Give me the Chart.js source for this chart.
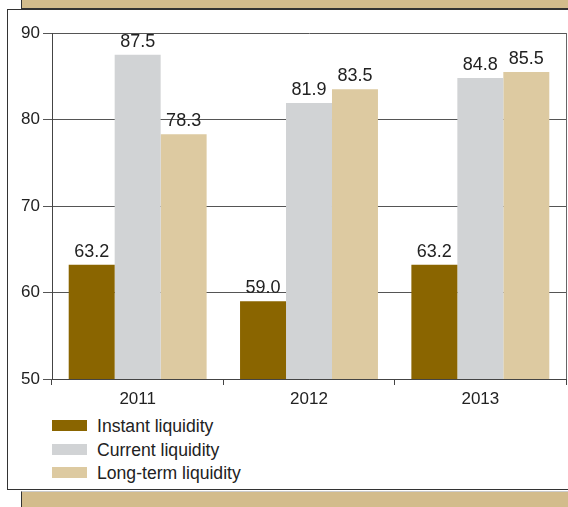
<!DOCTYPE html>
<html>
<head>
<meta charset="utf-8">
<script src="https://cdn.jsdelivr.net/npm/chart.js@4/dist/chart.umd.min.js"></script>
<style>
html,body{margin:0;padding:0;background:#fff;}
#wrap{position:relative;width:568px;height:507px;overflow:hidden;font-family:"Liberation Sans",Arial,sans-serif;}
#topband{position:absolute;left:21px;top:0;width:560px;height:8px;background:#D3BC8C;border-left:1.5px solid #333;border-bottom:1.5px solid #333;}
#panel{position:absolute;left:7px;top:9px;width:570px;height:479px;background:#fff;border-left:1.5px solid #333;border-top:1px solid #333;border-bottom:1.5px solid #333;}
#botband{position:absolute;left:21px;top:491px;width:560px;height:20px;background:#D3BC8C;border-left:1.5px solid #333;border-top:1px solid #ccc;}
#c{position:absolute;left:0;top:0;}
#legend{position:absolute;left:52px;top:0;}
.li{position:absolute;left:0;white-space:nowrap;font-size:17.6px;color:#222;}
.lb{position:absolute;left:0;width:35px;height:11px;}
.lt{position:absolute;left:45px;line-height:22px;}
</style>
</head>
<body>
<div id="wrap">
<div id="topband"></div>
<div id="panel"></div>
<div id="botband"></div>
<canvas id="c" width="568" height="410"></canvas>
<div id="legend"></div>
</div>
<script>
const categories = ["2011", "2012", "2013"];
const instantLiquidity = [63.2, 59.0, 63.2];
const currentLiquidity = [87.5, 81.9, 84.8];
const longTermLiquidity = [78.3, 83.5, 85.5];
const seriesNames = ["Instant liquidity", "Current liquidity", "Long-term liquidity"];
const seriesColors = ["#8A6500", "#D1D3D5", "#DDCAA1"];
const yTicks = [50, 60, 70, 80, 90];

const FONT = '"Liberation Sans", Arial, sans-serif';

const valueLabels = {
  id: 'valueLabels',
  afterDatasetsDraw(chart) {
    const ctx = chart.ctx;
    ctx.save();
    ctx.font = '18px ' + FONT;
    ctx.fillStyle = '#222';
    ctx.textAlign = 'center';
    ctx.textBaseline = 'bottom';
    chart.data.datasets.forEach((ds, i) => {
      chart.getDatasetMeta(i).data.forEach((bar, j) => {
        ctx.fillText(ds.data[j].toFixed(1), bar.x, bar.y - 4);
      });
    });
    ctx.restore();
  }
};
const rightBorder = {
  id: 'rightBorder',
  afterDraw(chart) {
    const a = chart.chartArea, ctx = chart.ctx;
    ctx.save();
    ctx.strokeStyle = '#666';
    ctx.lineWidth = 1;
    ctx.beginPath();
    ctx.moveTo(Math.round(a.right) + 0.5, a.top);
    ctx.lineTo(Math.round(a.right) + 0.5, a.bottom);
    ctx.stroke();
    ctx.restore();
  }
};

const datasets = [instantLiquidity, currentLiquidity, longTermLiquidity].map((d, i) => ({
  label: seriesNames[i],
  data: d,
  backgroundColor: seriesColors[i],
  borderWidth: 0,
  barPercentage: 1.0,
  categoryPercentage: 0.805
}));

new Chart(document.getElementById('c'), {
  type: 'bar',
  data: { labels: categories, datasets },
  options: {
    responsive: false,
    animation: false,
    layout: { padding: { left: 0, right: 2, top: 33, bottom: 0 } },
    plugins: { legend: { display: false }, tooltip: { enabled: false } },
    scales: {
      x: {
        grid: { display: true, drawOnChartArea: false, offset: true, tickLength: 6, color: '#444' },
        border: { display: true, color: '#444', width: 1 },
        ticks: { font: { size: 17, family: FONT }, color: '#222', padding: 4 },
        afterFit(s) { s.height = 31; }
      },
      y: {
        min: 50, max: 90,
        afterBuildTicks(s) { s.ticks = yTicks.map(v => ({ value: v })); },
        grid: { color: '#555', tickLength: 9, lineWidth: 1 },
        border: { display: true, color: '#444', width: 1 },
        ticks: { font: { size: 17, family: FONT }, color: '#222', padding: 3 },
        afterFit(s) { s.width = 52; }
      }
    }
  },
  plugins: [valueLabels, rightBorder]
});

const legend = document.getElementById('legend');
const rowsY = [420, 444, 467];
seriesNames.forEach((n, i) => {
  const item = document.createElement('div');
  item.className = 'li';
  item.style.top = (rowsY[i]) + 'px';
  item.innerHTML = '<div class="lb" style="background:' + seriesColors[i] + '"></div><div class="lt" style="top:-5.5px">' + n + '</div>';
  legend.appendChild(item);
});
</script>
</body>
</html>
